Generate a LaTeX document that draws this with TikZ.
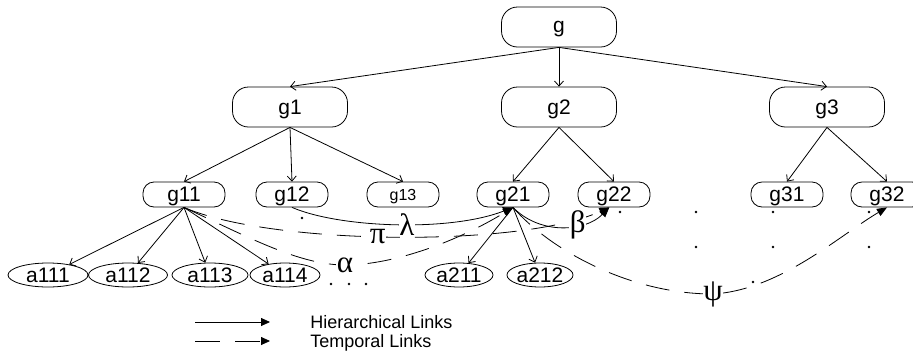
\documentclass[tikz,border=0pt]{standalone}
\usepackage{fontspec}
\setmainfont{Liberation Sans}
\newfontfamily\greekfont{Liberation Serif}
\usetikzlibrary{arrows.meta,shapes.geometric}
\begin{document}
\begin{tikzpicture}[x=1pt,y=-1pt,line width=0.8pt]
	\tikzstyle{goal node}=[draw,rectangle,rounded corners=16pt,minimum width=115pt,minimum height=40pt,inner sep=0,text depth=0pt,font=\fontsize{21}{24}\selectfont]
	\tikzstyle{subgoal node}=[draw,rectangle,rounded corners=11pt,minimum width=72pt,minimum height=25pt,inner sep=0,text depth=0pt,font=\fontsize{21}{24}\selectfont]
	\tikzstyle{action node}=[draw,ellipse,minimum height=24pt,inner sep=0,font=\fontsize{21}{24}\selectfont]
	\tikzset{
		hier link/.style={-{Straight Barb[length=5pt,width=9pt]}},
		temp link/.style={-{Triangle[length=10pt,width=8pt]},dash pattern=on 24pt off 15pt},
		solid temp link/.style={-{Triangle[length=10pt,width=8pt]}},
		greek label/.style={fill=white,inner sep=0.5pt,font=\greekfont\fontsize{31}{34}\selectfont},
		legend text/.style={anchor=west,inner sep=0,text depth=0pt,font=\fontsize{18}{18}\selectfont}
	}
	\useasboundingbox (0,0) rectangle (913,354);
	\node(g)[goal node] at (559,27){g};
	\node(g1)[goal node] at (290,107){g1};
	\node(g2)[goal node] at (559,107){g2};
	\node(g3)[goal node] at (827,107){g3};
	\node(g11)[subgoal node,minimum width=82pt] at (184,194.5){g11};
	\node(g12)[subgoal node] at (292,194.5){g12};
	\node(g13)[subgoal node,font=\fontsize{16}{18}\selectfont] at (403,194.5){g13};
	\node(g21)[subgoal node] at (513,194.5){g21};
	\node(g22)[subgoal node] at (614,194.5){g22};
	\node(g31)[subgoal node] at (787,194.5){g31};
	\node(g32)[subgoal node] at (887,194.5){g32};
	\node(a111)[action node,minimum width=80pt] at (48,275){a111};
	\node(a112)[action node,minimum width=79pt] at (128,275){a112};
	\node(a113)[action node,minimum width=76pt] at (210,275){a113};
	\node(a114)[action node,minimum width=70pt] at (285,275){a114};
	\node(a211)[action node,minimum width=68pt] at (459,275){a211};
	\node(a212)[action node,minimum width=66pt] at (540,275){a212};
	\draw[hier link] (g.south) -- (g1.north);
	\draw[hier link] (g.south) -- (g2.north);
	\draw[hier link] (g.south) -- (g3.north);
	\draw[hier link] (g1.south) -- (g11.north);
	\draw[hier link] (g1.south) -- (g12.north);
	\draw[hier link] (g1.south) -- (g13.north);
	\draw[hier link] (g2.south) -- (g21.north);
	\draw[hier link] (g2.south) -- (g22.north);
	\draw[hier link] (g3.south) -- (g31.north);
	\draw[hier link] (g3.south) -- (g32.north);
	\draw[hier link] (g11.south) -- (a111);
	\draw[hier link] (g11.south) -- (a112);
	\draw[hier link] (g11.south) -- (a113);
	\draw[hier link] (g11.south) -- (a114);
	\draw[hier link] (g21.south) -- (a211);
	\draw[hier link] (g21.south) -- (a212);
	\draw[solid temp link] (g12.south) .. controls (340,228) and (450,232) .. node[greek label,pos=0.54]{λ} (g21.south);
	\draw[temp link] (g11.south) .. controls (270,245) and (520,248) .. node[greek label,pos=0.465]{π} (g22.250);
	\draw[temp link] (g11.south) .. controls (250,238) and (300,265) .. (345,265) node[greek label]{α} .. controls (395,265) and (460,240) .. (g21.south);
	\draw[solid temp link] (g21.south) .. controls (540,235) and (585,232) .. node[greek label,pos=0.65]{β} (g22.250);
	\draw[temp link] (g21.south) .. controls (550,250) and (630,294) .. (713,294) node[greek label]{ψ} .. controls (780,290) and (840,235) .. (g32.south);
	\fill (302,218) circle (1.3pt) (620,212) circle (1.3pt) (696,212) circle (1.3pt) (773,212) circle (1.3pt) (869,212) circle (1.3pt)
		(696,247) circle (1.3pt) (773,247) circle (1.3pt) (869,247) circle (1.3pt) (753,282) circle (1.3pt)
		(331,284) circle (1.3pt) (349,284) circle (1.3pt) (366,284) circle (1.3pt);
	\coordinate(h0) at (195,322);
	\coordinate(h1) at (270,322);
	\coordinate(t0) at (195,341);
	\coordinate(t1) at (270,341);
	\draw[-{Triangle[length=9pt,width=8pt]}] (h0) -- (h1);
	\draw[-{Triangle[length=9pt,width=8pt]},dash pattern=on 25pt off 15pt] (t0) -- (t1);
	\node(hl)[legend text] at (310,322){Hierarchical Links};
	\node(tl)[legend text] at (310,341){Temporal Links};
\end{tikzpicture}
\end{document}
